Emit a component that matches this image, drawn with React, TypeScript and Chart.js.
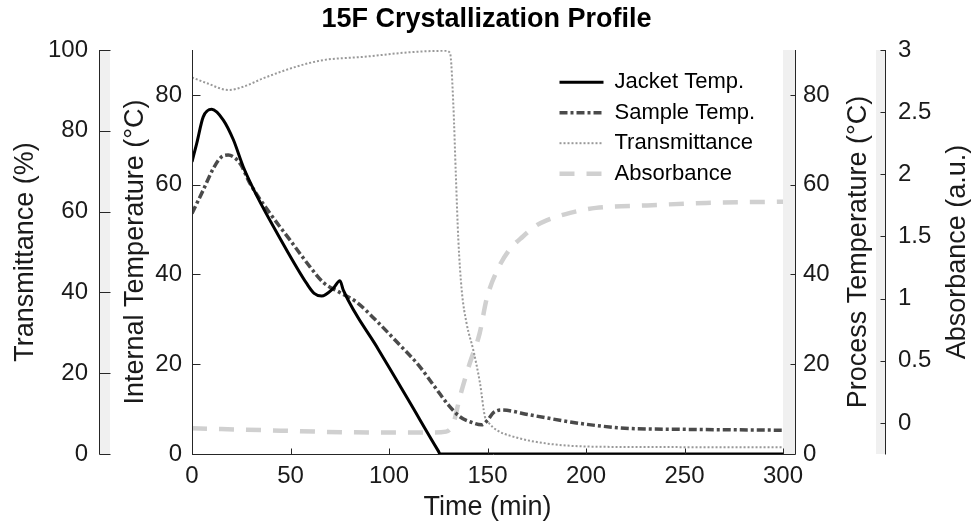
import React, { useEffect, useRef } from 'react';
import { Chart, registerables } from 'chart.js';

Chart.register(...registerables);

const FONT = "'Liberation Sans', Arial, Helvetica, sans-serif";
const TEXT = '#1a1a1a';
const AXIS = '#262626';
const BAND = '#f0f0f0';

// ---------------- data ----------------
const jacketTime = [0, 2.4, 5.7, 10, 15.9, 21, 26, 32.8, 45, 58.2, 62, 65.8, 71.7, 75.1, 76.8, 94.6, 110, 125, 126, 130, 150, 200, 250, 300];
const jacketTemp = [65.1, 69.2, 75.1, 76.8, 74.4, 70, 64, 57.6, 47.8, 38, 35.8, 35.2, 36.9, 38.6, 36.5, 23.3, 11.9, 0.7, 0, 0, 0, 0, 0, 0];

const sampleTime = [0, 5.7, 10.8, 15, 18.4, 24.4, 29.4, 39.6, 49.7, 59.9, 66.7, 75, 83.6, 94, 105, 115, 124, 130, 136, 141, 147, 150, 153, 157, 171.6, 197, 222, 248, 300];
const sampleTemp = [53.6, 58.8, 63.6, 66.2, 66.6, 64.7, 60.3, 53.6, 47.7, 41.7, 38.2, 36, 33.8, 29.5, 24.5, 19.8, 14.5, 11, 8.3, 7.2, 6.5, 7.5, 9.2, 9.8, 8.7, 6.8, 5.7, 5.5, 5.3];

const transTime = [0, 7.5, 18.4, 26, 36.2, 53.1, 66.7, 87, 112, 129, 131, 132.7, 133.9, 135.2, 136.9, 139.4, 142.8, 146.2, 148.7, 151, 154.7, 163, 180, 205, 250, 300];
const transValue = [93.2, 91.8, 90.1, 90.9, 93, 95.9, 97.5, 98.3, 99.5, 99.8, 99.2, 86, 69.5, 53, 40.6, 32.3, 25.7, 17.5, 9.2, 7.5, 5.9, 4.3, 2.6, 1.8, 1.7, 1.65];

const absTime = [0, 45, 78, 120, 129, 132.7, 136, 141, 146, 149.6, 154.7, 161, 168, 175, 180, 192, 205, 231, 261, 300];
const absValue = [-0.043, -0.062, -0.075, -0.078, -0.07, -0.002, 0.21, 0.48, 0.72, 1.0, 1.22, 1.39, 1.5, 1.59, 1.63, 1.69, 1.73, 1.75, 1.77, 1.78];

const timeTicks = [0, 50, 100, 150, 200, 250, 300];
const transTicks = [0, 20, 40, 60, 80, 100];
const tempTicks = [0, 20, 40, 60, 80];
const absTicks = [0, 0.5, 1, 1.5, 2, 2.5, 3];

const seriesNames = ['Jacket Temp.', 'Sample Temp.', 'Transmittance', 'Absorbance'];
const chartTitle = '15F Crystallization Profile';
const xTitle = 'Time (min)';
const transTitle = 'Transmittance (%)';
const internalTitle = 'Internal Temperature (°C)';
const processTitle = 'Process Temperature (°C)';
const absTitle = 'Absorbance (a.u.)';

const pts = (xs: number[], ys: number[]) => xs.map((x, i) => ({ x, y: ys[i] }));
const setTicks = (vals: number[]) => (s: any) => { s.ticks = vals.map((v) => ({ value: v })); };

// layout constants
const PROC_OFFSET = 12;
const LEGEND_DX = 359;
const LEGEND_DY = 12.7;

const tickFont = { size: 24, family: FONT };
const titleFont = { size: 27, family: FONT, lineHeight: 1 };
const noGrid = { display: false, drawTicks: false };

const decor = {
  id: 'decor',
  beforeDraw(chart: any) {
    const { ctx, chartArea: ca, scales } = chart;
    const h = ca.bottom - ca.top;
    ctx.save();
    ctx.fillStyle = BAND;
    ctx.fillRect(scales.yT.right + 1, ca.top, 10, h);
    ctx.fillRect(ca.right, ca.top, PROC_OFFSET, h);
    ctx.fillRect(scales.yAbs.left - 9, ca.top, 9, h);
    ctx.restore();
  },
  afterDraw(chart: any) {
    const { ctx, chartArea: ca, scales } = chart;
    const r = (v: number) => Math.round(v) + 0.5;
    ctx.save();
    ctx.strokeStyle = AXIS;
    ctx.lineWidth = 1;
    const line = (x1: number, y1: number, x2: number, y2: number) => {
      ctx.beginPath(); ctx.moveTo(x1, y1); ctx.lineTo(x2, y2); ctx.stroke();
    };
    const xT = r(scales.yT.right);
    const xI = r(ca.left);
    const xP = r(ca.right + PROC_OFFSET);
    const xA = r(scales.yAbs.left);
    const yB = r(ca.bottom);
    line(xT, ca.top, xT, ca.bottom + 0.5);
    line(xI, ca.top, xI, ca.bottom + 0.5);
    line(xP, ca.top, xP, ca.bottom + 0.5);
    line(xA, ca.top, xA, ca.bottom + 0.5);
    line(ca.left, yB, ca.right + PROC_OFFSET, yB);
    scales.yT.ticks.forEach((t: any) => { const y = r(scales.yT.getPixelForValue(t.value)); line(xT, y, xT + 11, y); });
    scales.yInt.ticks.forEach((t: any) => { const y = r(scales.yInt.getPixelForValue(t.value)); line(xI, y, xI + 8, y); });
    scales.yProc.ticks.forEach((t: any) => { const y = r(scales.yProc.getPixelForValue(t.value)); line(xP, y, xP - 5, y); });
    scales.yAbs.ticks.forEach((t: any) => { const y = r(scales.yAbs.getPixelForValue(t.value)); line(xA, y, xA - 5, y); });
    scales.x.ticks.forEach((t: any) => { const x = r(scales.x.getPixelForValue(t.value)); line(x, yB, x, yB - 6); });
    // right-side axis titles, reading bottom to top
    ctx.fillStyle = TEXT;
    ctx.font = `${titleFont.size}px ${FONT}`;
    ctx.textAlign = 'center';
    ctx.textBaseline = 'middle';
    const cy = (ca.top + ca.bottom) / 2;
    const vtext = (text: string, x: number) => {
      ctx.save(); ctx.translate(x, cy); ctx.rotate(-Math.PI / 2); ctx.fillText(text, 0, 0); ctx.restore();
    };
    vtext(processTitle, scales.yProc.right - 26);
    vtext(absTitle, scales.yAbs.right - 15);
    ctx.restore();
  },
};

const legendPlace = {
  id: 'legendPlace',
  afterLayout(chart: any) {
    const lg = chart.legend;
    if (!lg) return;
    const ca = chart.chartArea;
    lg.left = ca.left + LEGEND_DX;
    lg.top = ca.top + LEGEND_DY;
    lg.right = lg.left + lg.width;
    lg.bottom = ca.bottom;
  },
};

export default function App() {
  const ref = useRef<HTMLCanvasElement>(null);
  useEffect(() => {
    if (!ref.current) return;
    const chart = new Chart(ref.current, {
      type: 'line',
      data: {
        datasets: [
          {
            label: seriesNames[0], data: pts(jacketTime, jacketTemp), yAxisID: 'yInt',
            borderColor: '#000000', backgroundColor: '#000000', borderWidth: 3,
          },
          {
            label: seriesNames[1], data: pts(sampleTime, sampleTemp), yAxisID: 'yInt',
            borderColor: '#4a4a4a', backgroundColor: '#4a4a4a', borderWidth: 3.5, borderDash: [8, 3, 3, 3],
          },
          {
            label: seriesNames[2], data: pts(transTime, transValue), yAxisID: 'yT',
            borderColor: '#999999', backgroundColor: '#999999', borderWidth: 2, borderDash: [2, 2],
          },
          {
            label: seriesNames[3], data: pts(absTime, absValue), yAxisID: 'yAbs',
            borderColor: '#d0d0d0', backgroundColor: '#d0d0d0', borderWidth: 4.5, borderDash: [15, 12],
          },
        ] as any,
      },
      options: {
        responsive: false,
        animation: false,
        devicePixelRatio: 1,
        layout: { padding: 0 },
        elements: { point: { radius: 0 }, line: { cubicInterpolationMode: 'monotone' } },
        plugins: {
          title: {
            display: true, text: chartTitle, color: '#000',
            font: { size: 27, weight: 'bold', family: FONT, lineHeight: 1.2 },
            padding: { top: 3, bottom: 14.6 },
          },
          legend: {
            position: 'chartArea', align: 'start',
            labels: {
              usePointStyle: true, pointStyle: 'line', pointStyleWidth: 44,
              font: { size: 22, family: FONT }, color: '#000', padding: 8.5,
              generateLabels: (c: any) => {
                const items = (Chart.defaults as any).plugins.legend.labels.generateLabels(c);
                items.forEach((it: any, i: number) => {
                  const ds: any = c.data.datasets[i];
                  it.lineDash = ds.borderDash || [];
                  it.lineWidth = ds.borderWidth;
                  it.strokeStyle = ds.borderColor;
                  it.fillStyle = ds.borderColor;
                  it.pointStyle = 'line';
                });
                return items;
              },
            },
          },
          tooltip: { enabled: false },
        },
        scales: {
          x: {
            type: 'linear', min: 0, max: 300,
            afterBuildTicks: setTicks(timeTicks),
            afterFit: (s: any) => { s.height = 70; },
            grid: noGrid, border: { display: false },
            ticks: { font: tickFont, color: TEXT, padding: 8, maxRotation: 0, autoSkip: false, callback: (v: any) => String(v) },
            title: { display: true, text: xTitle, color: TEXT, font: titleFont, padding: { top: 0, bottom: 2.5 } },
          },
          yT: {
            type: 'linear', position: 'left', weight: 1, min: 0, max: 100,
            afterBuildTicks: setTicks(transTicks),
            afterFit: (s: any) => { s.width = 99; },
            grid: noGrid, border: { display: false },
            ticks: { font: tickFont, color: TEXT, padding: 11, callback: (v: any) => String(v) },
            title: { display: true, text: transTitle, color: TEXT, font: titleFont, padding: { top: 12, bottom: 0 } },
          },
          yInt: {
            type: 'linear', position: 'left', weight: 0, min: 0, max: 90,
            afterBuildTicks: setTicks(tempTicks),
            afterFit: (s: any) => { s.width = 93; },
            grid: noGrid, border: { display: false },
            ticks: { font: tickFont, color: TEXT, padding: 10, callback: (v: any) => String(v) },
            title: { display: true, text: internalTitle, color: TEXT, font: titleFont, padding: { top: 23, bottom: 0 } },
          },
          yProc: {
            type: 'linear', position: 'right', weight: 0, min: 0, max: 90,
            afterBuildTicks: setTicks(tempTicks),
            afterFit: (s: any) => { s.width = 102; },
            grid: noGrid, border: { display: false },
            ticks: { font: tickFont, color: TEXT, padding: 20, callback: (v: any) => String(v) },
            title: { display: false },
          },
          yAbs: {
            type: 'linear', position: 'right', weight: 1, min: -0.25, max: 3,
            afterBuildTicks: setTicks(absTicks),
            afterFit: (s: any) => { s.width = 88; },
            grid: noGrid, border: { display: false },
            ticks: { font: tickFont, color: TEXT, padding: 13, callback: (v: any) => String(v) },
            title: { display: false },
          },
        },
      } as any,
      plugins: [decor, legendPlace],
    });
    return () => chart.destroy();
  }, []);
  return (
    <div style={{ position: 'fixed', left: 0, top: 0, width: 973, height: 524, background: '#fff' }}>
      <canvas ref={ref} width={973} height={524} style={{ display: 'block', width: 973, height: 524 }} />
    </div>
  );
}
